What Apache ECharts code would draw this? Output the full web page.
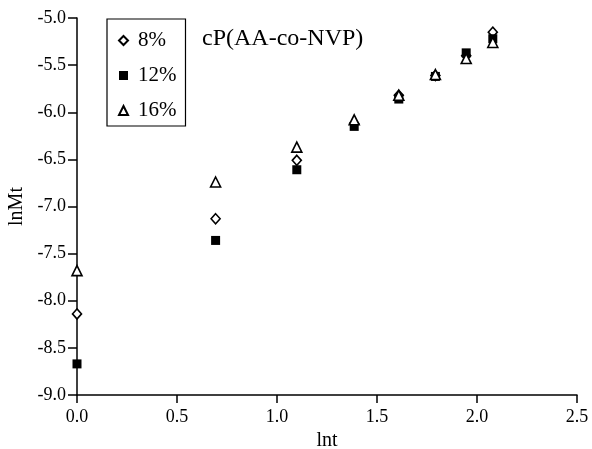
<!DOCTYPE html>
<html>
<head>
<meta charset="utf-8">
<script src="https://cdn.jsdelivr.net/npm/echarts@6/dist/echarts.min.js"></script>
<style>
  html, body { margin: 0; padding: 0; background: #fff; }
  #chart { width: 592px; height: 449px; }
</style>
</head>
<body>
<div id="chart"></div>
<script>
// lnt values (ln of 1..8)
var lnt = [0, 0.693, 1.099, 1.386, 1.609, 1.792, 1.946, 2.079]
var seriesNames = ['8%', '12%', '16%']
var lnMt8 = [-8.14, -7.13, -6.51, -6.12, -5.82, -5.61, -5.40, -5.15]
var lnMt12 = [-8.67, -7.36, -6.61, -6.15, -5.86, -5.62, -5.37, -5.22]
var lnMt16 = [-7.68, -6.74, -6.37, -6.08, -5.82, -5.60, -5.43, -5.26]

function pairs (ys) {
  return lnt.map(function (x, i) { return [x, ys[i]] })
}

var font = 'Liberation Serif, Times New Roman, serif'
var chart = echarts.init(document.getElementById('chart'))

chart.setOption({
  animation: false,
  textStyle: { fontFamily: font },
  title: {
    text: 'cP(AA-co-NVP)',
    left: 202,
    top: 27,
    padding: 0,
    textStyle: { fontFamily: font, fontSize: 24, fontWeight: 'normal', color: '#000' }
  },
  legend: {
    orient: 'vertical',
    left: 107,
    top: 19,
    padding: [11, 9, 5, 11],
    itemGap: 14,
    itemWidth: 9,
    itemHeight: 9,
    borderColor: '#000',
    borderWidth: 1.2,
    textStyle: { fontFamily: font, fontSize: 21, lineHeight: 21, color: '#000', padding: [0, 0, 0, 5] },
    data: seriesNames
  },
  grid: {
    left: 77,
    right: 15,
    top: 18,
    bottom: 54,
    containLabel: false,
    outerBoundsMode: 'none'
  },
  xAxis: {
    type: 'value',
    min: 0,
    max: 2.5,
    interval: 0.5,
    name: 'lnt',
    nameLocation: 'middle',
    nameGap: 34,
    nameTextStyle: { fontFamily: font, fontSize: 20, color: '#000' },
    axisLine: { lineStyle: { color: '#000', width: 1.5 } },
    axisTick: { inside: false, length: 8, lineStyle: { color: '#000', width: 1.5 } },
    axisLabel: {
      fontFamily: font, fontSize: 18, color: '#000', margin: 13,
      formatter: function (v) { return v.toFixed(1) }
    },
    splitLine: { show: false }
  },
  yAxis: {
    type: 'value',
    min: -9,
    max: -5,
    interval: 0.5,
    name: 'lnMt',
    nameLocation: 'middle',
    nameGap: 48,
    nameTextStyle: { fontFamily: font, fontSize: 20, color: '#000' },
    axisLine: { show: true, lineStyle: { color: '#000', width: 1.5 } },
    axisTick: { show: true, inside: false, length: 9, lineStyle: { color: '#000', width: 1.5 } },
    axisLabel: {
      fontFamily: font, fontSize: 18, color: '#000', margin: 11,
      formatter: function (v) { return v.toFixed(1) }
    },
    splitLine: { show: false }
  },
  series: [
    {
      name: '8%',
      type: 'scatter',
      symbol: 'diamond',
      symbolSize: [9, 10],
      itemStyle: { color: '#fff', borderColor: '#000', borderWidth: 1.6, opacity: 1 },
      data: pairs(lnMt8),
      z: 2
    },
    {
      name: '12%',
      type: 'scatter',
      symbol: 'rect',
      symbolSize: 9,
      itemStyle: { color: '#000', borderColor: '#000', borderWidth: 0, opacity: 1 },
      data: pairs(lnMt12),
      z: 3
    },
    {
      name: '16%',
      type: 'scatter',
      symbol: 'triangle',
      symbolSize: [10, 10],
      itemStyle: { color: '#fff', borderColor: '#000', borderWidth: 1.6, opacity: 1 },
      data: pairs(lnMt16),
      z: 4
    }
  ]
})
</script>
</body>
</html>
